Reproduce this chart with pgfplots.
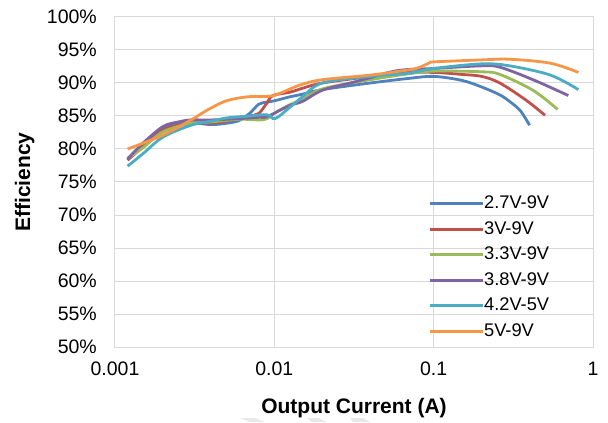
\documentclass[border=0pt]{standalone}
\usepackage{fontspec}
\setmainfont{Liberation Sans}
\usepackage{pgfplots}
\pgfplotsset{compat=1.18}

\definecolor{cA}{HTML}{4F81BD}
\definecolor{cB}{HTML}{C0504D}
\definecolor{cC}{HTML}{9BBB59}
\definecolor{cD}{HTML}{8064A2}
\definecolor{cE}{HTML}{4BACC6}
\definecolor{cF}{HTML}{F79646}
\definecolor{gmaj}{HTML}{D9D9D9}
\definecolor{gmin}{HTML}{EDEDED}
\definecolor{wm}{HTML}{E8E8E8}

\begin{document}
\begin{tikzpicture}
\begin{axis}[
  scale only axis, width=478pt, height=330pt,
  xmode=log, log basis x=10,
  xmin=0.001, xmax=1, ymin=50, ymax=100,
  xtick={0.001,0.01,0.1,1}, xticklabels={0.001,0.01,0.1,1},
  ytick={50,55,60,65,70,75,80,85,90,95,100},
  yticklabels={50\%,55\%,60\%,65\%,70\%,75\%,80\%,85\%,90\%,95\%,100\%},
  xmajorgrids, xminorgrids, ymajorgrids,
  major grid style={draw=gmaj, line width=1pt},
  minor grid style={draw=gmin, line width=1pt},
  major tick length=0pt, minor tick length=0pt,
  axis line style={draw=gmaj, line width=1pt},
  tick label style={font=\fontsize{19.5}{23}\selectfont, inner sep=0pt},
  yticklabel style={xshift=-18pt},
  xticklabel style={yshift=-15pt},
  xlabel={Output Current (A)}, ylabel={Efficiency},
  label style={font=\fontsize{21}{25}\selectfont\bfseries},
  xlabel style={at={(axis description cs:0.5,-0.185)}, anchor=center},
  ylabel style={at={(axis description cs:-0.189,0.5)}, anchor=center},
  legend style={at={(axis description cs:0.655,0.462)}, anchor=north west,
    draw=none, fill=none, inner sep=0pt,
    font=\fontsize{18.3}{22}\selectfont,
    nodes={inner sep=0pt, text height=14pt, text depth=4pt},
    row sep=7.5pt},
  legend cell align=left,
  legend image code/.code={\draw[#1] (0pt,0pt) -- (53pt,0pt);},
  every axis plot/.append style={line width=2.8pt, smooth, tension=0.55, no marks},
]
\addplot[cA] coordinates {(0.0012,78.4)(0.0015,80.4)(0.002,83.0)(0.0025,83.8)(0.003,84.0)(0.004,83.7)(0.005,83.9)(0.006,84.3)(0.007,85.4)(0.008,86.8)(0.009,87.1)(0.01,87.3)(0.0125,87.9)(0.015,88.3)(0.02,89.0)(0.04,90.0)(0.07,90.7)(0.1,91.0)(0.15,90.4)(0.2,89.4)(0.26,88.2)(0.3,87.2)(0.35,85.8)(0.4,83.6)};
\addlegendentry{2.7V-9V}
\addplot[cB] coordinates {(0.0012,78.3)(0.0015,80.4)(0.002,82.9)(0.003,83.9)(0.004,83.9)(0.005,84.2)(0.006,84.6)(0.007,85.0)(0.008,85.4)(0.009,87.0)(0.0098,88.1)(0.0125,88.6)(0.015,89.2)(0.02,90.0)(0.04,91.0)(0.06,91.6)(0.1,91.6)(0.15,91.3)(0.2,91.0)(0.26,90.0)(0.38,87.4)(0.5,85.1)};
\addlegendentry{3V-9V}
\addplot[cC] coordinates {(0.0012,78.6)(0.0015,80.2)(0.002,82.6)(0.003,83.9)(0.004,84.1)(0.006,84.5)(0.008,84.4)(0.009,84.6)(0.0103,85.6)(0.0125,86.7)(0.015,87.5)(0.02,89.1)(0.04,90.5)(0.07,91.4)(0.1,91.8)(0.2,91.7)(0.26,91.3)(0.42,88.9)(0.6,86.0)};
\addlegendentry{3.3V-9V}
\addplot[cD] coordinates {(0.0012,78.5)(0.0015,80.9)(0.002,83.4)(0.0025,84.1)(0.003,84.4)(0.004,84.4)(0.006,84.6)(0.008,84.8)(0.009,84.9)(0.0125,86.6)(0.015,87.2)(0.02,88.9)(0.03,90.0)(0.04,90.8)(0.06,91.9)(0.1,92.2)(0.2,92.6)(0.26,92.4)(0.42,90.5)(0.7,88.1)};
\addlegendentry{3.8V-9V}
\addplot[cE] coordinates {(0.0012,77.4)(0.0015,79.3)(0.002,81.8)(0.003,83.6)(0.004,84.2)(0.005,84.7)(0.007,85.0)(0.009,85.2)(0.0101,84.6)(0.0125,86.3)(0.015,87.9)(0.02,90.0)(0.04,91.0)(0.07,91.5)(0.1,92.2)(0.2,92.9)(0.3,92.6)(0.54,91.2)(0.81,89.0)};
\addlegendentry{4.2V-5V}
\addplot[cF] coordinates {(0.0012,80.0)(0.002,82.1)(0.003,84.4)(0.0034,85.2)(0.004,86.2)(0.005,87.3)(0.0067,87.9)(0.0094,88.0)(0.011,88.5)(0.0145,89.7)(0.02,90.5)(0.04,91.2)(0.07,92.0)(0.082,92.4)(0.095,93.1)(0.1,93.2)(0.2,93.5)(0.3,93.6)(0.54,93.0)(0.81,91.6)};
\addlegendentry{5V-9V}
\coordinate (sw) at (rel axis cs:0,0);
\coordinate (ne) at (rel axis cs:1,1);
\end{axis}
% faint background marks along the lower edge of the page
\begin{scope}[shift={(sw)}, x=1pt, y=1pt]
  \fill[wm] (125,-71) -- (140,-71) -- (150,-75) -- (135,-75) -- cycle;
  \fill[wm] (192,-71) -- (203,-71) -- (212,-75) -- (197,-75) -- cycle;
  \fill[wm] (235,-71) -- (248,-71) -- (255,-75) -- (238,-75) -- cycle;
\end{scope}
\pgfresetboundingbox
\path[use as bounding box] ([shift={(-115pt,-75pt)}]sw) rectangle ([shift={(15pt,17pt)}]ne);
\end{tikzpicture}
\end{document}
